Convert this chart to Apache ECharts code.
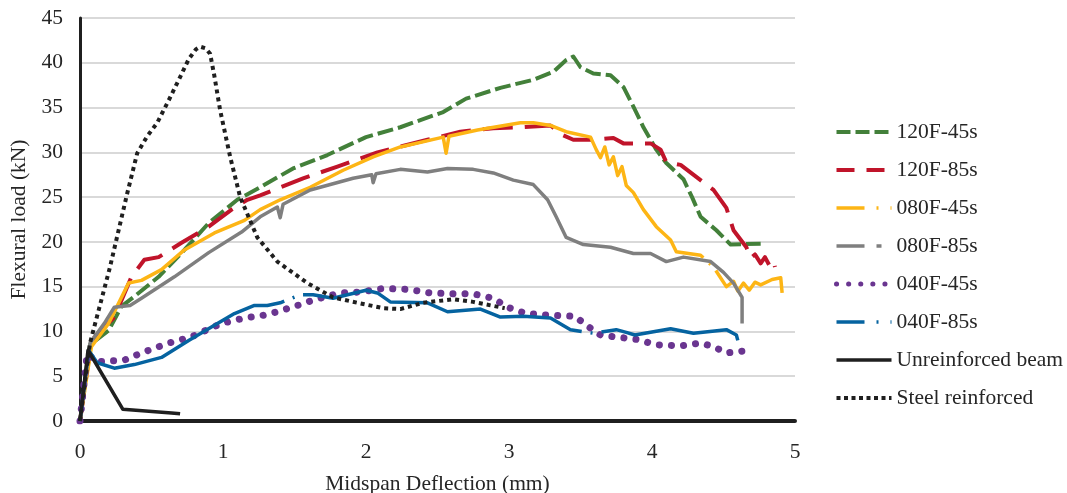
<!DOCTYPE html>
<html>
<head>
<meta charset="utf-8">
<script src="https://cdn.jsdelivr.net/npm/echarts@6/dist/echarts.min.js"></script>
<style>
  html, body { margin: 0; padding: 0; background: #fff; }
  #chart { width: 1067px; height: 493px; }
</style>
</head>
<body>
<div id="chart"></div>
<script>
// load–deflection curves, values (x: mm, y: kN)

const X_TICKS = [0, 1, 2, 3, 4, 5];
const Y_TICKS = [0, 5, 10, 15, 20, 25, 30, 35, 40, 45];

const s120F_45s = [[0,0],[0.07,8.5],[0.2,10.1],[0.29,12.8],[0.38,13.9],[0.55,16.1],[0.73,19.1],[0.9,22.1],[1.1,24.7],
  [1.26,26.1],[1.49,28.2],[1.73,29.7],[2.0,31.7],[2.24,32.8],[2.38,33.6],[2.54,34.5],[2.7,36.0],[2.94,37.2],[3.17,38.1],
  [3.31,39.0],[3.40,40.3],[3.45,40.7],[3.50,39.5],[3.59,38.8],[3.71,38.6],[3.80,37.3],[3.87,35.1],[3.94,32.8],[4.03,30.3],
  [4.10,28.8],[4.22,27.0],[4.28,25.0],[4.34,22.8],[4.45,21.3],[4.55,19.7],[4.76,19.8]];

const s120F_85s = [[0,0],[0.08,9.0],[0.24,11.6],[0.36,16.1],[0.45,18.0],[0.55,18.3],[0.71,19.9],[0.9,21.7],[1.06,23.6],
  [1.17,24.7],[1.26,25.2],[1.56,27.1],[1.8,28.4],[2.08,30.0],[2.43,31.4],[2.66,32.3],[2.89,32.7],[3.08,32.8],[3.29,33.0],
  [3.38,31.9],[3.45,31.4],[3.59,31.4],[3.73,31.6],[3.80,31.0],[3.99,31.0],[4.06,30.3],[4.10,28.9],[4.20,28.6],[4.43,25.8],
  [4.52,23.8],[4.57,21.3],[4.66,19.4],[4.69,18.2],[4.72,18.6],[4.76,17.6],[4.79,18.3],[4.82,17.4],[4.85,17.9],[4.86,17.2]];

const s080F_45s = [[0,0],[0.08,8.3],[0.2,10.9],[0.34,15.4],[0.43,15.7],[0.57,16.9],[0.73,19.1],[0.94,21.0],[1.15,22.4],
  [1.26,23.6],[1.4,24.7],[1.61,26.1],[1.84,28.0],[2.05,29.5],[2.24,30.6],[2.54,31.7],[2.56,29.9],[2.58,31.8],[2.78,32.5],
  [3.08,33.3],[3.17,33.3],[3.29,33.0],[3.40,32.3],[3.57,31.7],[3.61,30.3],[3.64,29.4],[3.67,30.6],[3.70,28.6],[3.73,29.5],
  [3.76,27.4],[3.79,28.4],[3.82,26.3],[3.87,25.5],[3.94,23.6],[4.03,21.7],[4.13,20.2],[4.17,18.9],[4.34,18.5],[4.43,17.2],
  [4.52,15.0],[4.57,15.6],[4.60,14.5],[4.64,15.4],[4.68,14.6],[4.72,15.5],[4.76,15.2],[4.84,15.8],[4.90,16.0],[4.91,14.3]];

const s080F_85s = [[0,0],[0.07,8.7],[0.17,10.9],[0.24,12.7],[0.35,12.9],[0.43,13.7],[0.66,16.1],[0.9,18.8],[1.13,21.1],
  [1.26,22.8],[1.38,23.9],[1.40,22.7],[1.42,24.2],[1.61,25.8],[1.91,27.1],[2.04,27.5],[2.05,26.6],[2.07,27.6],[2.24,28.1],
  [2.43,27.8],[2.57,28.2],[2.75,28.1],[2.89,27.7],[3.03,26.9],[3.17,26.4],[3.27,24.7],[3.33,22.8],[3.40,20.5],[3.52,19.7],
  [3.71,19.4],[3.87,18.7],[3.99,18.7],[4.10,17.8],[4.22,18.3],[4.41,17.8],[4.50,16.6],[4.57,15.4],[4.63,13.8],[4.63,10.9]];

const s040F_45s = [[0,0],[0.05,7.5],[0.12,6.6],[0.31,6.8],[0.43,7.6],[0.62,8.7],[0.78,9.4],[0.99,10.9],[1.15,11.5],
  [1.28,11.8],[1.38,12.2],[1.52,12.9],[1.63,13.5],[1.82,14.3],[1.96,14.4],[2.12,14.8],[2.29,14.7],[2.45,14.3],[2.61,14.2],
  [2.75,14.2],[2.89,13.7],[2.99,12.7],[3.12,12.0],[3.29,11.8],[3.46,11.7],[3.54,10.7],[3.64,9.6],[3.74,9.4],[3.90,9.1],
  [4.03,8.5],[4.21,8.4],[4.34,8.7],[4.43,8.3],[4.52,7.6],[4.63,7.8]];

const s040F_85s = [[0,0],[0.06,7.9],[0.12,6.5],[0.24,5.9],[0.38,6.3],[0.57,7.1],[0.76,9.0],[0.94,10.7],[1.08,12.0],
  [1.22,12.9],[1.31,12.9],[1.40,13.2],[1.54,14.1],[1.63,14.1],[1.77,13.7],[2.0,14.6],[2.08,14.3],[2.17,13.3],[2.43,13.2],
  [2.57,12.2],[2.80,12.5],[2.94,11.6],[3.10,11.7],[3.29,11.5],[3.43,10.2],[3.59,9.8],[3.75,10.2],[3.82,9.9],[3.88,9.6],
  [4.13,10.3],[4.29,9.8],[4.52,10.2],[4.59,9.6],[4.60,9.0]];

const unreinforced = [[0,0],[0.056,7.9],[0.30,1.3],[0.64,0.9],[0.70,0.8]];

const steel = [[0,0],[0.07,8.7],[0.21,17.2],[0.33,25.4],[0.40,29.9],[0.47,31.8],[0.54,33.3],[0.62,35.8],[0.70,38.4],
  [0.76,40.4],[0.81,41.5],[0.84,41.8],[0.88,41.6],[0.91,41.0],[0.94,38.5],[0.98,34.7],[1.05,29.5],[1.12,25.0],[1.24,20.5],
  [1.38,17.8],[1.59,15.4],[1.77,13.8],[1.94,13.2],[2.12,12.6],[2.24,12.5],[2.40,13.2],[2.61,13.6],[2.75,13.3],[2.97,12.6]];

const FONT = 'Liberation Serif';
const FS = 21.5;
const TEXT = '#262626';

// name, data, color, width, dash in plot, dash in legend, cap
const SERIES = [
  ['120F-45s', s120F_45s, '#43803a', 4, [16, 5], [14, 5], 'butt'],
  ['120F-85s', s120F_85s, '#c0142a', 4, [30, 12], [18, 12], 'butt'],
  ['080F-45s', s080F_45s, '#fdb515', 3.5, [900, 8, 2, 8], [28, 12, 2, 12], 'butt'],
  ['080F-85s', s080F_85s, '#7f7f7f', 3.5, [900, 8, 4, 8], [28, 12, 5, 10], 'butt'],
  ['040F-45s', s040F_45s, '#6a3590', 7, [0.1, 12], [0.1, 12], 'round'],
  ['040F-85s', s040F_85s, '#0563a0', 3.5, [290, 9, 2, 9], [28, 12, 2, 12], 'butt'],
  ['Unreinforced beam', unreinforced, '#1f1f1f', 3.5, 'solid', 'solid', 'butt'],
  ['Steel reinforced', steel, '#1f1f1f', 4, [4, 4], [4, 3.5], 'butt'],
];

const c = echarts.init(document.getElementById('chart'), null, { renderer: 'canvas' });

c.setOption({
  animation: false,
  textStyle: { fontFamily: FONT, color: TEXT },
  grid: { left: 80, right: 272, top: 18, bottom: 72, containLabel: false, outerBoundsMode: 'none' },
  legend: {
    orient: 'vertical',
    left: 829, top: 116,
    itemWidth: 55, itemHeight: 14, itemGap: 16,
    textStyle: { fontFamily: FONT, fontSize: FS, color: TEXT },
    data: SERIES.map(([name, , color, width, , legendDash, cap]) => ({
      name,
      itemStyle: { opacity: 0 },
      lineStyle: { color, width: Math.min(width, 5), type: legendDash, cap },
    })),
  },
  xAxis: {
    type: 'value', min: 0, max: 5, interval: 1,
    name: 'Midspan Deflection (mm)', nameLocation: 'middle', nameGap: 52,
    nameTextStyle: { fontFamily: FONT, fontSize: FS, color: TEXT },
    axisLine: { show: true, onZero: false, lineStyle: { color: '#1f1f1f', width: 4 } },
    axisTick: { show: false },
    splitLine: { show: false },
    axisLabel: { fontFamily: FONT, fontSize: FS, color: TEXT, margin: 20,
      formatter: v => X_TICKS.includes(v) ? String(v) : '' },
  },
  yAxis: {
    type: 'value', min: 0, max: 45, interval: 5,
    name: 'Flexural load (kN)', nameLocation: 'middle', nameGap: 40,
    nameTextStyle: { fontFamily: FONT, fontSize: FS, color: TEXT },
    axisLine: { show: true, lineStyle: { color: '#1f1f1f', width: 3 } },
    axisTick: { show: false },
    splitLine: { lineStyle: { color: '#d9d9d9', width: 2 } },
    axisLabel: { fontFamily: FONT, fontSize: FS, color: TEXT, margin: 17,
      formatter: v => Y_TICKS.includes(v) ? String(v) : '' },
  },
  series: SERIES.map(([name, data, color, width, dash, , cap]) => ({
    name, type: 'line', data,
    symbol: 'none', smooth: false,
    itemStyle: { color },
    lineStyle: { color, width, type: dash, cap, join: 'round' },
    z: name === 'Steel reinforced' ? 3 : 2,
  })),
});
</script>
</body>
</html>
